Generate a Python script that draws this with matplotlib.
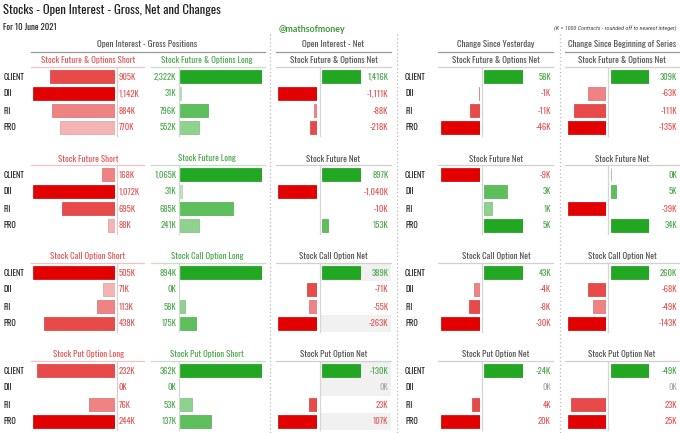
import matplotlib
matplotlib.use('Agg')
import matplotlib.pyplot as plt
from matplotlib import font_manager as fm
from matplotlib.lines import Line2D
from matplotlib.patches import Rectangle
from matplotlib.colors import to_rgb

# ---------------- data ----------------
entities = ['CLIENT', 'DII', 'FII', 'PRO']
gross_red_titles = ['Stock Future & Options Short', 'Stock Future Short',
                    'Stock Call Option Short', 'Stock Put Option Long']
gross_green_titles = ['Stock Future & Options Long', 'Stock Future Long',
                      'Stock Call Option Long', 'Stock Put Option Short']
net_titles = ['Stock Future & Options Net', 'Stock Future Net',
              'Stock Call Option Net', 'Stock Put Option Net']

gross_red = [[905, 1142, 884, 770], [168, 1072, 695, 88],
             [505, 71, 113, 438], [232, 0, 76, 244]]
gross_green = [[2322, 31, 796, 552], [1065, 31, 685, 241],
               [894, 0, 58, 175], [362, 0, 53, 137]]
oi_net = [[1416, -1111, -88, -218], [897, -1040, -10, 153],
          [389, -71, -55, -263], [-130, 0, 23, 107]]
chg_yday = [[58, -1, -11, -46], [-9, 3, 1, 5],
            [43, -4, -8, -30], [-24, 0, 4, 20]]
chg_series = [[309, -63, -111, -135], [0.3, 5, -39, 34],
              [260, -68, -49, -143], [-49, 0, 23, 25]]
bar_sign = [1, 1, 1, -1]   # put block: bars drawn opposite to the shown number

top_headers = ['Open Interest - Gross Positions', 'Open Interest - Net',
               'Change Since Yesterday', 'Change Since Beginning of Series']
title = 'Stocks - Open Interest - Gross, Net and Changes'
subtitle = 'For 10 June 2021'
brand = '@mathsofmoney'
note = '(K = 1000 Contracts - rounded off to nearest integer)'
net_highlight = [(2, 0), (2, 3), (3, 0), (3, 1), (3, 3)]

# ---------------- style ----------------
W, H = 680, 433
RED = ['#e30000', '#e84a4a', '#ef8282', '#f5b4b4']
GREEN = ['#22a722', '#5cbf5c', '#8ed28e', '#c2e6c2']
TXT_RED = '#e05a5a'
TXT_GREEN = '#4fa84f'
TXT_GREY = '#aaaaaa'
DARK = '#222222'
MID = '#555555'

NAMES = {e.name for e in fm.fontManager.ttflist}


def first_font(cands):
    for c in cands:
        if c in NAMES:
            return [c, 'DejaVu Sans']
    return ['DejaVu Sans']


FONT = first_font(['Oswald', 'Pathway Gothic One', 'Roboto Condensed', 'PT Sans Narrow',
                   'Barlow Condensed', 'Archivo Narrow'])
FONT_IT = first_font(['Roboto Condensed', 'Barlow Condensed', 'Archivo Narrow', 'Open Sans Condensed'])
FONT_BRAND = first_font(['Lato', 'Nunito', 'Varela Round'])
LIGHT = 'light'

fig = plt.figure(figsize=(W / 100, H / 100), dpi=100)
fig.patch.set_facecolor('white')
renderer = fig.canvas.get_renderer()


def fit_size(s, target, maxsize, weight='normal', style='normal', family=None):
    t = fig.text(0, 0, s, fontsize=10, fontweight=weight, fontstyle=style,
                 family=family or FONT)
    w = t.get_window_extent(renderer=renderer).width
    t.remove()
    return min(maxsize, 10 * target / w)


def T(x, y, s, size, color=DARK, ha='left', weight='normal', style='normal', family=None):
    fig.text(x / W, 1 - y / H, s, fontsize=size, color=color, ha=ha, va='center_baseline',
             fontweight=weight, fontstyle=style, family=family or FONT)


def hline(x0, x1, y, color, lw=0.8, ls='-'):
    fig.add_artist(Line2D([x0 / W, x1 / W], [1 - y / H, 1 - y / H], color=color,
                          lw=lw, ls=ls, transform=fig.transFigure))


def vline(x, y0, y1, color, lw=0.8, ls='-'):
    fig.add_artist(Line2D([x / W, x / W], [1 - y0 / H, 1 - y1 / H], color=color,
                          lw=lw, ls=ls, transform=fig.transFigure))


def add_ax(x0, x1, ytop, ybot):
    ax = fig.add_axes([x0 / W, 1 - ybot / H, (x1 - x0) / W, (ybot - ytop) / H])
    ax.set_axis_off()
    ax.set_ylim(3.5, -0.5)
    ax.patch.set_alpha(0)
    return ax


def darker(c, f=0.88):
    r, g, b = to_rgb(c)
    return (r * f, g * f, b * f)


def rank_colors(mags, pal):
    order = sorted(range(len(mags)), key=lambda i: -mags[i])
    cols = [None] * len(mags)
    for r, i in enumerate(order):
        cols[i] = pal[r]
    return cols


def fmt(v):
    return f"{int(round(v)):,}K".replace('-0K', '0K')


def draw_bars(ax, vals, cols):
    idx = [i for i, v in enumerate(vals) if v != 0]
    if not idx:
        return
    ax.barh(idx, [vals[i] for i in idx], height=13 / 17,
            color=[cols[i] for i in idx],
            edgecolor=[darker(cols[i]) for i in idx], linewidth=0.5)


# sizes fitted to the reference text widths
s_title = fit_size(title, 217, 11.0)
s_sub = fit_size(subtitle, 54, 8.0)
s_brand = fit_size(brand, 67, 8.5, weight='bold', family=FONT_BRAND)
s_note = fit_size(note, 124, 6.0, style='italic', family=FONT_IT)
s_top = fit_size(top_headers[0], 100, 8.5, weight=LIGHT)
s_hdr = fit_size(gross_red_titles[0], 94, 8.0, weight=LIGHT)
s_ent = fit_size('CLIENT', 21, 8.0)
s_val = fit_size('1,142K', 21, 8.0, weight=LIGHT)

# ---------------- header texts ----------------
T(3, 8.5, title, s_title, color='#222222')
T(3, 26, subtitle, s_sub, color='#222222')
T(311.5, 28, brand, s_brand, color='#3f9b3f', ha='center', weight='bold', family=FONT_BRAND)
T(677, 27, note, s_note, color='#444444', ha='right', style='italic', family=FONT_IT)

top_pos = [(147.5, 31, 265), (333.5, 276, 391), (496, 438, 553), (622, 565, 680)]
for txt, (cx, x0, x1) in zip(top_headers, top_pos):
    T(cx, 43.5, txt, s_top, color=MID, ha='center', weight=LIGHT)
    hline(x0, x1, 51.7, '#9a9a9a', lw=0.9)

for x in (270, 397, 559.5):
    vline(x, 34, 433, '#bbbbbb', lw=0.9, ls=(0, (1, 2)))

# ---------------- column geometry ----------------
red_bar = (33, 115)
green_bar = (180, 262)
net_cols = [
    dict(data=oi_net, neg=(278.3, 317.3), zero=320.0, pos=(321.7, 360.7), lab=388.5,
         cx=333.5, line=(276, 391)),
    dict(data=chg_yday, neg=(440.5, 479.5), zero=482.3, pos=(484.0, 523.0), lab=551.0,
         cx=496, line=(438, 553)),
    dict(data=chg_series, neg=(567.5, 606.0), zero=608.3, pos=(610.5, 649.3), lab=677.0,
         cx=622, line=(565, 680)),
]

for k in range(4):
    yc0 = 76 + 98 * k
    ytop, ybot = yc0 - 8.5, yc0 + 3 * 17 + 8.5
    yh = 60 + 98 * k
    yl = 66.7 + 98 * k
    rows_c = [yc0 + 17 * r for r in range(4)]

    # sub headers
    T(88, yh, gross_red_titles[k], s_hdr, color=TXT_RED, ha='center', weight=LIGHT)
    hline(31, 144, yl, '#f0c4c4', lw=0.9)
    T(207, yh, gross_green_titles[k], s_hdr, color=TXT_GREEN, ha='center', weight=LIGHT)
    hline(150.7, 265, yl, '#c4e2c4', lw=0.9)
    for nc in net_cols:
        T(nc['cx'], yh, net_titles[k], s_hdr, color=MID, ha='center', weight=LIGHT)
        hline(nc['line'][0], nc['line'][1], yl, '#d0d0d0', lw=0.9)

    # entity labels
    for r, e in enumerate(entities):
        T(4, rows_c[r], e, s_ent, color=DARK)
        T(405, rows_c[r], e, s_ent, color=DARK)

    # gross red (bars grow left)
    vals = gross_red[k]
    ax = add_ax(red_bar[0], red_bar[1], ytop, ybot)
    draw_bars(ax, vals, rank_colors(vals, RED))
    ax.set_xlim(max(vals), 0)
    vline(116.5, ytop, ybot, '#e2cccc', lw=0.9)
    for r, v in enumerate(vals):
        T(119, rows_c[r], fmt(v), s_val, color=TXT_RED, weight=LIGHT)

    # gross green (bars grow right)
    vals = gross_green[k]
    ax = add_ax(green_bar[0], green_bar[1], ytop, ybot)
    draw_bars(ax, vals, rank_colors(vals, GREEN))
    ax.set_xlim(0, max(vals))
    vline(178.5, ytop, ybot, '#ccdccc', lw=0.9)
    for r, v in enumerate(vals):
        T(176.5, rows_c[r], fmt(v), s_val, color=TXT_GREEN, ha='right', weight=LIGHT)

    # net columns
    for ci, nc in enumerate(net_cols):
        shown = nc['data'][k]
        bars = [v * bar_sign[k] for v in shown]
        if ci == 0:
            for (bk, br) in net_highlight:
                if bk == k:
                    fig.add_artist(Rectangle((nc['zero'] / W, 1 - (rows_c[br] + 8.5) / H),
                                             (391 - nc['zero']) / W, 17 / H,
                                             transform=fig.transFigure,
                                             facecolor='#f1f1f1', edgecolor='none',
                                             zorder=0))
        negs = [(-b if b < 0 else 0) for b in bars]
        poss = [(b if b > 0 else 0) for b in bars]
        axn = add_ax(nc['neg'][0], nc['neg'][1], ytop, ybot)
        draw_bars(axn, [-m for m in negs], rank_colors(negs, RED))
        axn.set_xlim(-(max(negs) or 1), 0)
        axp = add_ax(nc['pos'][0], nc['pos'][1], ytop, ybot)
        draw_bars(axp, poss, rank_colors(poss, GREEN))
        axp.set_xlim(0, max(poss) or 1)
        vline(nc['zero'], ytop, ybot, '#d6d6d6', lw=0.9)
        for r, (v, b) in enumerate(zip(shown, bars)):
            col = TXT_GREEN if b > 0 else (TXT_RED if b < 0 else TXT_GREY)
            T(nc['lab'], rows_c[r], fmt(v), s_val, color=col, ha='right', weight=LIGHT)

fig.savefig('out.png', dpi=100, facecolor='white')
